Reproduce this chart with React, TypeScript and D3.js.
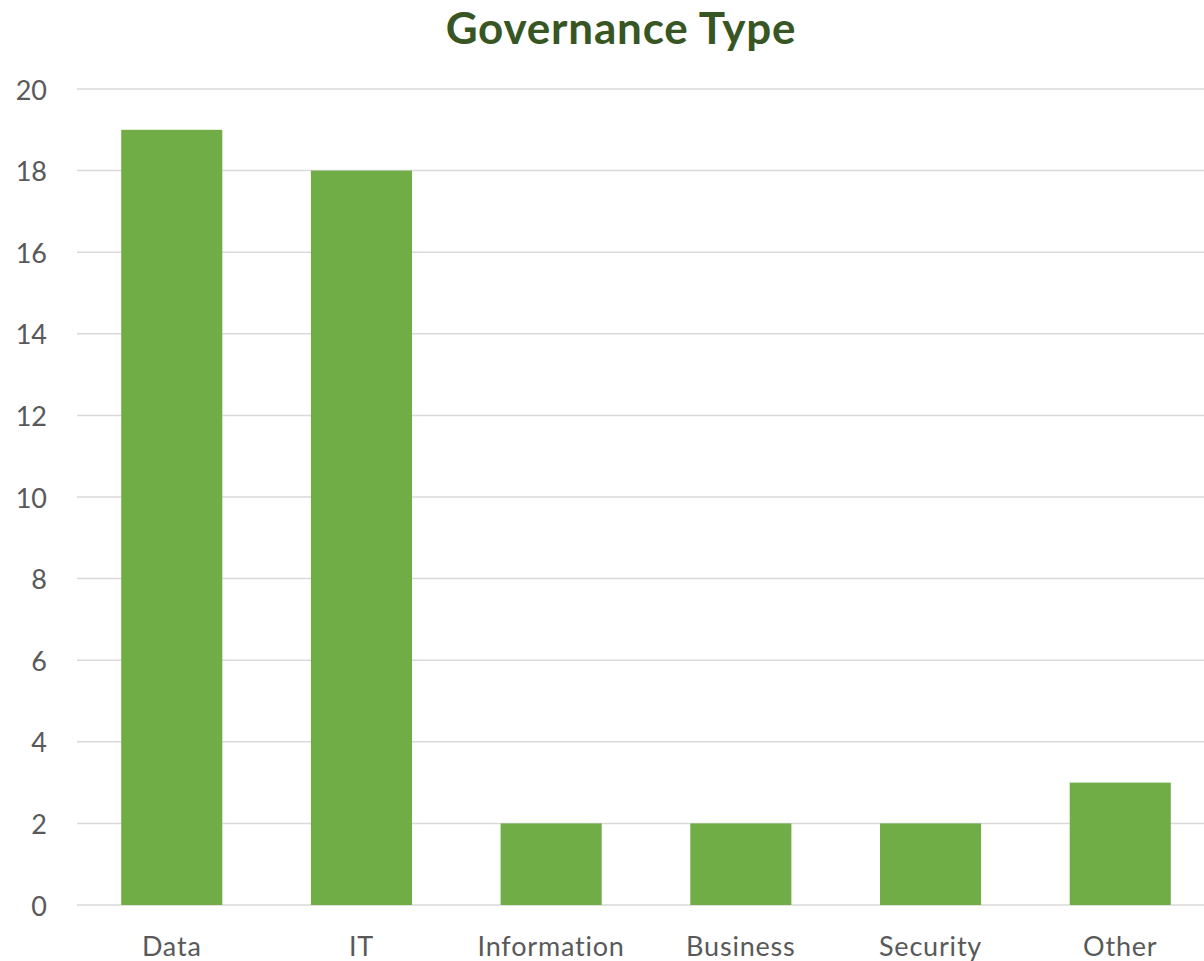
import React from "react";
import * as d3 from "d3";

const categories = ["Data", "IT", "Information", "Business", "Security", "Other"];
const values = [19, 18, 2, 2, 2, 3];
const yTicks = [0, 2, 4, 6, 8, 10, 12, 14, 16, 18, 20];
const title = "Governance Type";

const W = 1204;
const H = 961;
const left = 77;
const right = 1215;
const top = 89;
const bottom = 905;

export default function App() {
  const x = d3.scaleBand<string>().domain(categories).range([left, right]).paddingInner(0.467).paddingOuter(0.233);
  const y = d3.scaleLinear().domain([0, 20]).range([bottom, top]);
  const font = "Lato, 'Open Sans', sans-serif";
  return (
    <svg width={W} height={H} style={{ position: "absolute", left: 0, top: 0, background: "#fff" }}>
      <text x={621} y={27} textAnchor="middle" dominantBaseline="central" fontFamily={font} fontWeight={700} fontSize={44} letterSpacing={0.8} fill="#375623">
        {title}
      </text>
      {yTicks.map((t) => (
        <g key={t}>
          <line x1={left} x2={W} y1={y(t)} y2={y(t)} stroke="#D9D9D9" strokeWidth={1.5} />
          <text x={47} y={y(t)} textAnchor="end" dominantBaseline="central" fontFamily={font} fontSize={27} fill="#595959">
            {t}
          </text>
        </g>
      ))}
      {categories.map((c, i) => (
        <g key={c}>
          <rect x={x(c)!} y={y(values[i])} width={x.bandwidth()} height={y(0) - y(values[i])} fill="#70AD47" />
          <text x={x(c)! + x.bandwidth() / 2} y={945} textAnchor="middle" dominantBaseline="central" fontFamily={font} fontSize={27} letterSpacing={0.8} fill="#595959">
            {c}
          </text>
        </g>
      ))}
    </svg>
  );
}
